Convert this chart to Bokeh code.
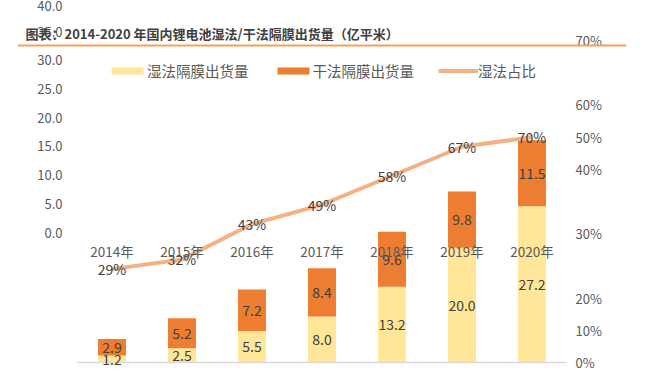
from bokeh.plotting import figure
from bokeh.models import (Range1d, FactorRange, LinearAxis, FixedTicker, NumeralTickFormatter,
                          ColumnDataSource, Label, Legend, LegendItem, Span)
from bokeh.core.properties import value
from bokeh.embed import file_html
from bokeh.resources import INLINE

# ---- data ----
years = ["2014年", "2015年", "2016年", "2017年", "2018年", "2019年", "2020年"]
wet = [1.2, 2.5, 5.5, 8.0, 13.2, 20.0, 27.2]
dry = [2.9, 5.2, 7.2, 8.4, 9.6, 9.8, 11.5]
wet_share = [29, 32, 43, 49, 58, 67, 70]
left_ticks = [0, 5, 10, 15, 20, 25, 30, 35, 40]
right_tick_pos = [0, 10, 20, 40, 60, 70, 80, 100]
right_tick_labels = ["0%", "10%", "20%", "30%", "40%", "50%", "60%", "70%"]
series_names = ["湿法隔膜出货量", "干法隔膜出货量", "湿法占比"]
title_text = "图表：2014-2020 年国内锂电池湿法/干法隔膜出货量（亿平米）"

# ---- styling / geometry ----
FONT = "Noto Sans CJK SC"
WET_C = "#FFE699"
DRY_C = "#ED7D31"
LINE_C = "#F4B183"
W, H = 647, 371
FL, FR = 17, 626           # frame left/right (px)
PAD = 0.85                 # category padding
BASE = 362                 # bar baseline (px from top)
BAR_PX = 5.74              # px per unit (bars)
PCT_PX = 3.22              # px per percent
LAB0 = 232                 # where left axis 0.0 sits

src = ColumnDataSource(dict(
    year=years, wet=wet, dry=dry, share=wet_share,
    wet_mid=[w / 2 for w in wet],
    dry_mid=[w + d / 2 for w, d in zip(wet, dry)],
    wet_lbl=[f"{v:.1f}" for v in wet],
    dry_lbl=[f"{v:.1f}" for v in dry],
    share_lbl=[f"{v}%" for v in wet_share],
))

p = figure(width=W, height=H,
           x_range=FactorRange(*years, range_padding=PAD, range_padding_units="absolute"),
           y_range=Range1d(-(H - BASE) / BAR_PX, BASE / BAR_PX),
           output_backend="svg", toolbar_location=None,
           x_axis_location=None, y_axis_location=None,
           min_border_left=FL, min_border_right=W - FR, min_border_top=0, min_border_bottom=0)
p.outline_line_color = None
p.background_fill_color = "white"
p.border_fill_color = "white"
p.xgrid.visible = False
p.ygrid.visible = False
p.grid.visible = False

p.extra_y_ranges = {
    "pct": Range1d(-(H - BASE) / PCT_PX, BASE / PCT_PX),
    "lab": Range1d(-(H - LAB0) / BAR_PX, LAB0 / BAR_PX),
}

left_axis = LinearAxis(y_range_name="lab", ticker=FixedTicker(ticks=left_ticks),
                       formatter=NumeralTickFormatter(format="0.0"))
right_axis = LinearAxis(y_range_name="pct", ticker=FixedTicker(ticks=right_tick_pos),
                        major_label_overrides={k: v for k, v in zip(right_tick_pos, right_tick_labels)})
for ax, so in ((left_axis, -45), (right_axis, -51)):
    ax.axis_line_color = None
    ax.major_tick_line_color = None
    ax.minor_tick_line_color = None
    ax.major_tick_in = 0
    ax.major_tick_out = 0
    ax.major_label_standoff = so
    ax.major_label_text_font = FONT
    ax.major_label_text_font_size = "13px"
    ax.major_label_text_color = "#595959"
p.add_layout(left_axis, "left")
p.add_layout(right_axis, "right")

bars = p.vbar_stack(["wet", "dry"], x="year", width=0.4, color=[WET_C, DRY_C],
                    line_color=None, source=src)
# category-axis baseline (synthetic coordinates: 0 .. number of categories)
p.segment(x0=0, x1=len(years), y0=0, y1=0,
          line_color="#D9D9D9", line_width=1.5)

ln = p.line(x="year", y="share", y_range_name="pct", source=src,
            line_color=LINE_C, line_width=4)

txt = dict(text_align="center", text_baseline="middle", text_font=value(FONT),
           text_font_size="14px", text_color="#404040")
p.text(x="year", y="wet_mid", text="wet_lbl", source=src, **txt)
p.text(x="year", y="dry_mid", text="dry_lbl", source=src, **txt)
p.text(x="year", y="share", text="share_lbl", y_range_name="pct", source=src, **txt)
p.text(x="year", y=-3.3, text="year", y_range_name="lab", source=src,
       text_align="center", text_baseline="middle", text_font=value(FONT),
       text_font_size="13.5px", text_color="#595959")

legend = Legend(items=[LegendItem(label=series_names[0], renderers=[bars[0]]),
                       LegendItem(label=series_names[1], renderers=[bars[1]]),
                       LegendItem(label=series_names[2], renderers=[ln])],
                orientation="horizontal", location=(90, 290),
                glyph_width=40, glyph_height=9, label_standoff=0, spacing=24,
                padding=0, margin=0, border_line_color=None, background_fill_alpha=0,
                label_text_font=FONT, label_text_font_size="14.5px",
                label_text_color="#595959", label_height=16)
p.add_layout(legend)

# title and its underline
p.add_layout(Label(x=8, y=338, x_units="screen", y_units="screen", text=title_text,
                   text_font=FONT, text_font_style="bold", text_font_size="13px",
                   text_baseline="middle", text_color="#404040"))
p.add_layout(Span(location=(LAB0 - 45) / BAR_PX, dimension="width", y_range_name="lab",
                  line_color="#F5A05A", line_width=2))

open("out.html", "w").write(file_html(p, INLINE))
